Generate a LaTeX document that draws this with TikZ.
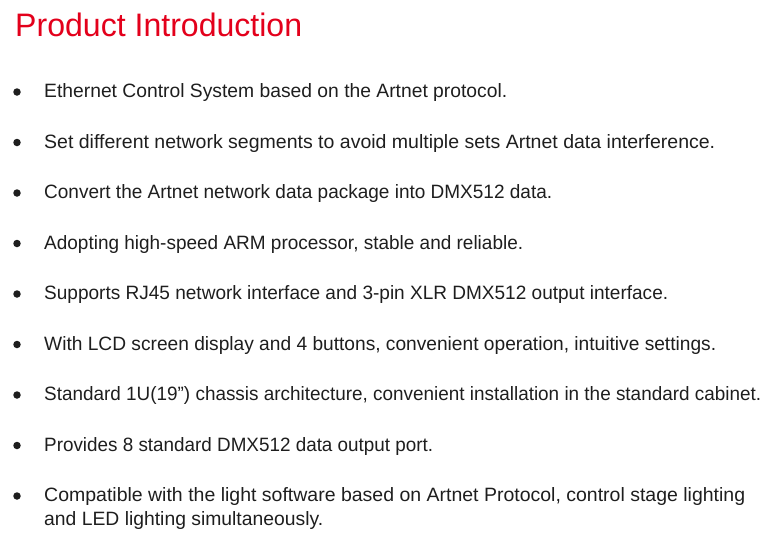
\documentclass[tikz,border=0pt]{standalone}
\usepackage{fontspec}
\setmainfont{Liberation Sans}
\usepackage{graphicx}
\definecolor{titlered}{HTML}{E3001B}
\definecolor{bodytext}{HTML}{1E1E1E}
\newcommand{\fitw}[2]{\resizebox{#1pt}{\height}{#2}}
\begin{document}
\begin{tikzpicture}[x=1pt,y=-1pt,
  item/.style={anchor=base west, inner sep=0pt, text=bodytext, font=\fontsize{19.3}{22}\selectfont},
  dot/.style={circle, fill=bodytext, inner sep=0pt, minimum size=7.5pt},
  heading/.style={anchor=base west, inner sep=0pt, text=titlered, font=\fontsize{32.5}{36}\selectfont}]
\useasboundingbox (0,0) rectangle (774,542);
\node[heading] (title) at (15,36) {\fitw{287}{Product Introduction}};

\node[dot] (b1) at (17,92) {};
\node[item] (t1) at (44,97.5) {\fitw{463}{Ethernet Control System based on the Artnet protocol.}};
\node[dot] (b2) at (17,142.5) {};
\node[item] (t2) at (44,148) {\fitw{671}{Set different network segments to avoid multiple sets Artnet data interference.}};
\node[dot] (b3) at (17,193) {};
\node[item] (t3) at (44,198.5) {\fitw{508}{Convert the Artnet network data package into DMX512 data.}};
\node[dot] (b4) at (17,243.5) {};
\node[item] (t4) at (44,249) {\fitw{479}{Adopting high-speed ARM processor, stable and reliable.}};
\node[dot] (b5) at (17,294) {};
\node[item] (t5) at (44,299.5) {\fitw{624}{Supports RJ45 network interface and 3-pin XLR DMX512 output interface.}};
\node[dot] (b6) at (17,344.5) {};
\node[item] (t6) at (44,350) {\fitw{672}{With LCD screen display and 4 buttons, convenient operation, intuitive settings.}};
\node[dot] (b7) at (17,395) {};
\node[item] (t7) at (44,400.5) {\fitw{717}{Standard 1U(19”) chassis architecture, convenient installation in the standard cabinet.}};
\node[dot] (b8) at (17,445.5) {};
\node[item] (t8) at (44,451) {\fitw{389}{Provides 8 standard DMX512 data output port.}};
\node[dot] (b9) at (17,496) {};
\node[item] (t9) at (44,501.5) {\fitw{701}{Compatible with the light software based on Artnet Protocol, control stage lighting}};
\node[item] (t9b) at (44,525) {\fitw{279}{and LED lighting simultaneously.}};
\end{tikzpicture}
\end{document}
